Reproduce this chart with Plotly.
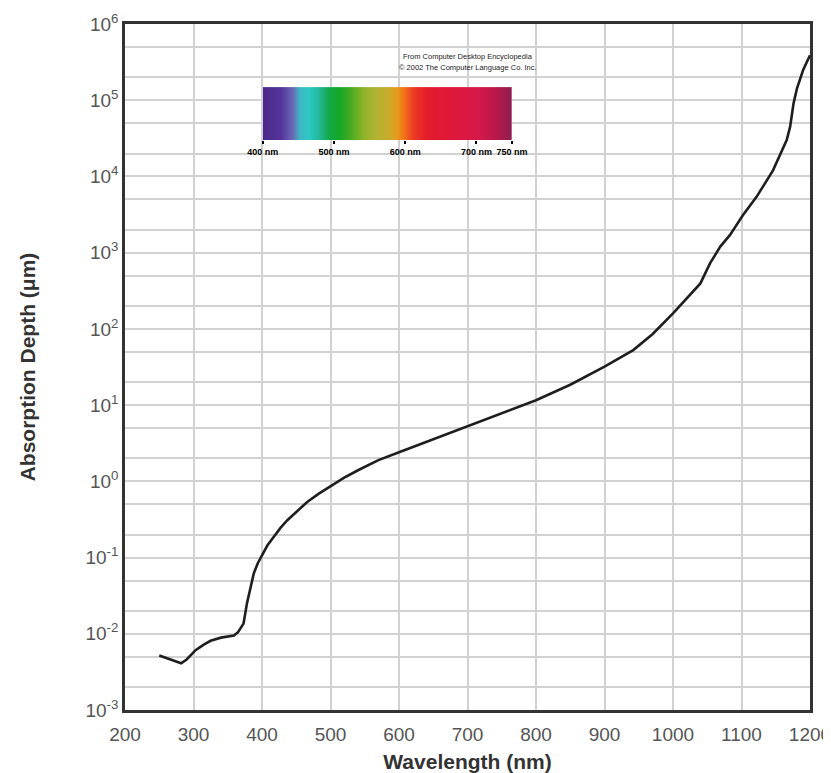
import plotly.graph_objects as go

# ---- data ----
wavelength_nm = [250, 265, 282, 290, 303, 315, 325, 340, 359, 365, 373, 378, 383, 388, 394,
                 400, 408, 417, 427, 437, 450, 466, 483, 500, 520, 543, 570, 602, 630, 660,
                 700, 750, 800, 850, 900, 942, 970, 1000, 1020, 1040, 1054, 1069, 1083, 1102,
                 1122, 1146, 1166, 1171, 1176, 1181, 1190, 1200]
absorption_depth_um = [0.0052, 0.0047, 0.0041, 0.0046, 0.0061, 0.0072, 0.0081, 0.0089, 0.0095,
                       0.0105, 0.0136, 0.025, 0.04, 0.062, 0.085, 0.107, 0.145, 0.186, 0.245,
                       0.309, 0.40, 0.537, 0.69, 0.87, 1.12, 1.44, 1.9, 2.44, 3.05, 3.84, 5.3,
                       7.9, 11.6, 18.5, 31.9, 52.7, 85, 160, 250, 395, 724, 1200, 1700, 3090,
                       5400, 12000, 30000, 45000, 91000, 143000, 249000, 390000]

x_ticks = [200, 300, 400, 500, 600, 700, 800, 900, 1000, 1100, 1200]
y_tick_vals = [1e-3, 1e-2, 1e-1, 1e0, 1e1, 1e2, 1e3, 1e4, 1e5, 1e6]
y_tick_text = ["10<sup>-3</sup>", "10<sup>-2</sup>", "10<sup>-1</sup>", "10<sup>0</sup>",
               "10<sup>1</sup>", "10<sup>2</sup>", "10<sup>3</sup>", "10<sup>4</sup>",
               "10<sup>5</sup>", "10<sup>6</sup>"]

# visible-spectrum inset
spectrum_nm = [400, 425, 440, 452, 465, 478, 492, 505, 520, 540, 558, 575, 588, 597, 610,
               630, 660, 700, 730, 750]
spectrum_colors = ["#4a2a8a", "#56359c", "#6a66b4", "#3fb7c4", "#2ccac6", "#22b89a",
                   "#15a848", "#12a82a", "#3aaa22", "#8cb428", "#b4b234", "#c8ac2c",
                   "#e89a1c", "#f27818", "#ec3c22", "#e41c2c", "#e01838", "#d8184a",
                   "#b4184a", "#8c2050"]
spectrum_ticks = [400, 500, 600, 700, 750]
spectrum_tick_text = ["400 nm", "500 nm", "600 nm", "700 nm", "750 nm"]

lo, hi = spectrum_nm[0], spectrum_nm[-1]
colorscale = [[(v - lo) / (hi - lo), c] for v, c in zip(spectrum_nm, spectrum_colors)]

fig = go.Figure()

fig.add_trace(go.Scatter(
    x=wavelength_nm, y=absorption_depth_um, mode="lines",
    line=dict(color="#1e1e1e", width=2.6), showlegend=False, hoverinfo="x+y"))

fig.add_trace(go.Heatmap(
    x=spectrum_nm, y=[0, 1], z=[spectrum_nm, spectrum_nm],
    colorscale=colorscale, zmin=lo, zmax=hi, zsmooth="best", showscale=False,
    xaxis="x2", yaxis="y2", hoverinfo="skip"))

grid_c = "#d2d2d2"
small = "Liberation Sans Narrow, Arial Narrow, Liberation Sans, Arial, sans-serif"
fig.update_layout(
    width=831, height=773,
    margin=dict(l=117, r=29, t=16, b=71, autoexpand=False),
    paper_bgcolor="white", plot_bgcolor="white",
    font=dict(family="Liberation Sans, Arial, sans-serif", color="#555555"),
    xaxis=dict(
        range=[200, 1200], tickvals=x_ticks, showgrid=True, gridcolor=grid_c, gridwidth=2,
        showline=True, linecolor="#333333", linewidth=2.5, mirror=True, ticks="",
        zeroline=False, automargin=False, ticklabelstandoff=5,
        tickfont=dict(size=19, color="#555555"),
        title=dict(text="<b>Wavelength (nm)</b>", font=dict(size=21, color="#333333"),
                   standoff=11)),
    yaxis=dict(
        type="log", range=[-3, 6], tickvals=y_tick_vals, ticktext=y_tick_text,
        showgrid=True, gridcolor=grid_c, gridwidth=1.5,
        minor=dict(showgrid=True, gridcolor=grid_c, gridwidth=1.5, ticks=""),
        showline=True, linecolor="#333333", linewidth=2.5, mirror=True, ticks="",
        zeroline=False, automargin=False, tickfont=dict(size=19, color="#555555"),
        title=dict(text="<b>Absorption Depth (\u03bcm)</b>", font=dict(size=21, color="#333333"),
                   standoff=45)),
    xaxis2=dict(
        domain=[0.201, 0.565], range=[400, 750], anchor="y2", showgrid=False, zeroline=False,
        showline=False, tickvals=spectrum_ticks, ticktext=spectrum_tick_text, tickangle=0,
        ticks="outside", ticklen=3, tickwidth=2, tickcolor="black", automargin=False,
        tickfont=dict(family=small, size=9, color="black", weight="bold")),
    yaxis2=dict(domain=[0.831, 0.908], range=[0, 1], anchor="x2", showgrid=False,
                zeroline=False, showline=False, showticklabels=False, ticks="",
                automargin=False),
    shapes=[dict(type="rect", xref="x2 domain", yref="y2 domain", x0=-0.037, x1=1.033,
                 y0=-0.323, y1=1.651, fillcolor="white", line=dict(width=0),
                 layer="below")],
    annotations=[
        dict(text="From Computer Desktop Encyclopedia", xref="paper", yref="paper",
             x=0.50, y=0.952, showarrow=False, xanchor="center", yanchor="middle",
             font=dict(family=small, size=7.5, color="#222222")),
        dict(text="\u00a9 2002 The Computer Language Co. Inc.", xref="paper", yref="paper",
             x=0.50, y=0.936, showarrow=False, xanchor="center", yanchor="middle",
             font=dict(family=small, size=7.5, color="#222222")),
    ],
)

fig.write_html("out.html")
